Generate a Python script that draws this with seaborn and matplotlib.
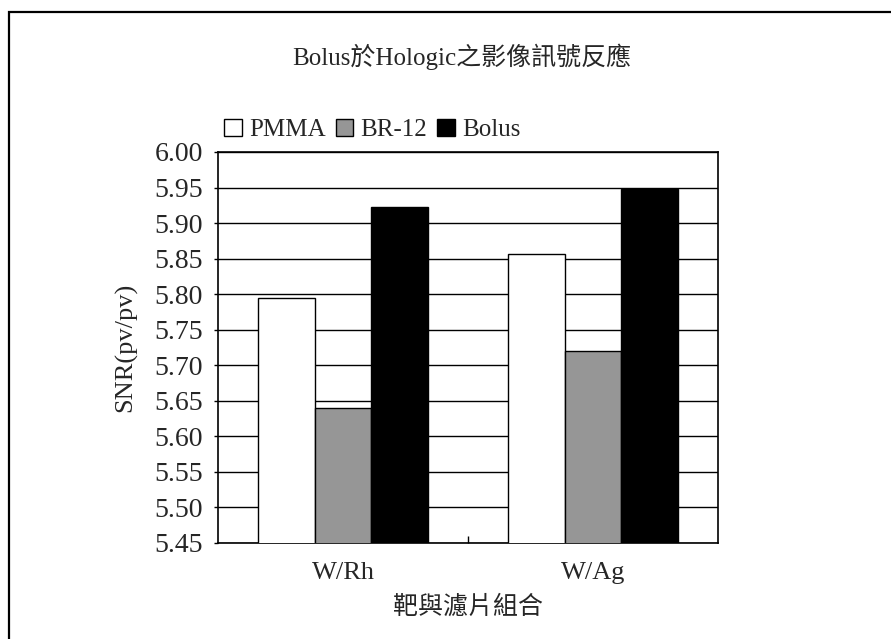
import matplotlib
matplotlib.use("Agg")
import matplotlib.pyplot as plt
import matplotlib.patches as mpatches
import seaborn as sns
import pandas as pd

categories = ["W/Rh", "W/Ag"]
series = ["PMMA", "BR-12", "Bolus"]
pmma = [5.795, 5.857]
br12 = [5.640, 5.720]
bolus = [5.922, 5.948]
y_ticks = [5.45, 5.50, 5.55, 5.60, 5.65, 5.70, 5.75, 5.80, 5.85, 5.90, 5.95, 6.00]
colors = ["#ffffff", "#969696", "#000000"]

rows = []
for name, vals in zip(series, [pmma, br12, bolus]):
    for cat, v in zip(categories, vals):
        rows.append({"cat": cat, "series": name, "value": v})
df = pd.DataFrame(rows)

sns.set_theme(style="white")
fonts = ["Liberation Serif", "Noto Sans CJK TC"]
plt.rcParams["font.family"] = fonts

W, H = 891, 639
fig = plt.figure(figsize=(W / 100, H / 100), dpi=100)
ax = fig.add_axes([218 / W, 1 - 543 / H, 500 / W, (543 - 152) / H])

sns.barplot(data=df, x="cat", y="value", hue="series", order=categories,
            hue_order=series, palette=colors, width=0.68, ax=ax,
            edgecolor="black", linewidth=1.0, legend=False, zorder=3)

ax.set_ylim(5.45, 6.00)
ax.set_yticks(y_ticks)
ax.set_yticklabels([f"{t:.2f}" for t in y_ticks])
ax.yaxis.grid(True, color="black", linewidth=1.0, zorder=0)
ax.set_axisbelow(True)
for s in ax.spines.values():
    s.set_color("black")
    s.set_linewidth(1.2)
    s.set_visible(True)

ax.tick_params(axis="y", direction="out", length=3, width=1, color="black",
               labelsize=20, pad=8, left=True)
ax.tick_params(axis="x", length=0, labelsize=19, pad=14)
ax.set_xticks([0.5], minor=True)
ax.tick_params(axis="x", which="minor", direction="in", length=5, width=1,
               color="black", bottom=True)

ax.set_xlabel("靶與濾片組合", fontsize=18, labelpad=8, family=fonts)
ax.set_ylabel("SNR(pv/pv)", fontsize=19, labelpad=12)

fig.text(0.5 * (283 + 640) / W, 1 - 57 / H, "Bolus於Hologic之影像訊號反應",
         ha="center", va="center", fontsize=18, family=fonts)

handles = [mpatches.Patch(facecolor=c, edgecolor="black", linewidth=1.0, label=n)
           for c, n in zip(colors, series)]
fig.legend(handles=handles, loc="center left", bbox_to_anchor=(224 / W, 1 - 130 / H),
           ncol=3, frameon=False, fontsize=18, handlelength=0.7, handleheight=0.7,
           handletextpad=0.3, columnspacing=0.4, borderaxespad=0, borderpad=0)

# outer frame of the chart area
frame = mpatches.Rectangle((9 / W, -0.05), 1.2, 1 - 12 / H + 0.05,
                           transform=fig.transFigure, fill=False,
                           edgecolor="black", linewidth=1.6, clip_on=False)
fig.patches.append(frame)

fig.savefig("out.png", dpi=100)
